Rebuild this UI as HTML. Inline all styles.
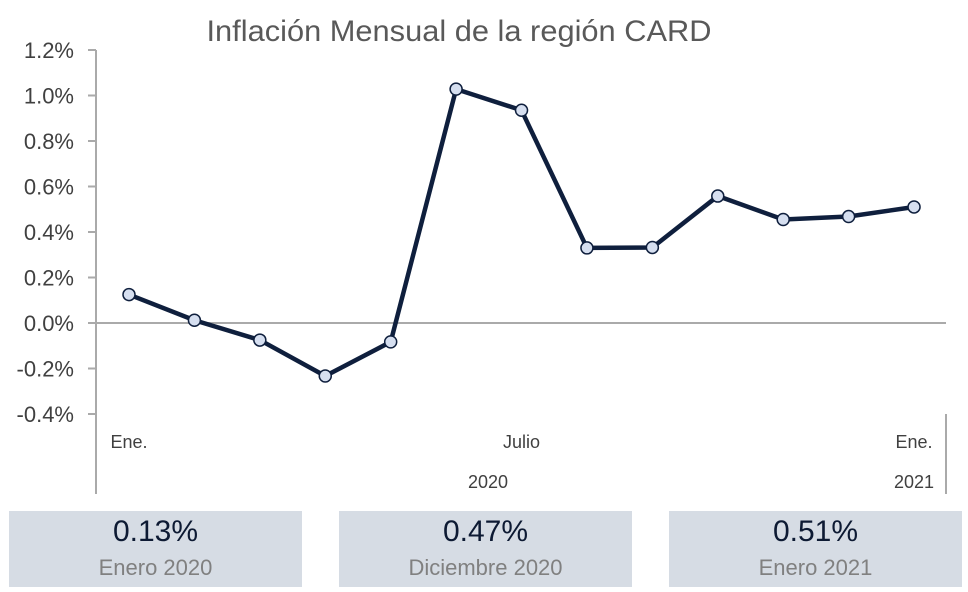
<!DOCTYPE html>
<html><head><meta charset="utf-8"><style>
body{margin:0;width:968px;height:592px;background:#fff;overflow:hidden;font-family:"Liberation Sans",sans-serif;}
.box{position:absolute;top:511px;height:76px;width:293px;background:#d6dce4;text-align:center;}
.v{position:absolute;top:4px;width:100%;font-size:30px;color:#0d1a33;}
.l{position:absolute;top:44px;width:100%;font-size:22px;color:#808080;}
</style></head><body>
<svg id="chart" width="968" height="510" style="position:absolute;left:0;top:0" font-family="Liberation Sans, sans-serif">
<text x="459" y="41" text-anchor="middle" font-size="30" textLength="505" lengthAdjust="spacingAndGlyphs" fill="#595959">Inflación Mensual de la región CARD</text>
<g id="yaxis"></g><g id="xaxis"></g><g id="series"></g>
</svg>
<div class="box" style="left:9px"><div class="v">0.13%</div><div class="l">Enero 2020</div></div>
<div class="box" style="left:339px"><div class="v">0.47%</div><div class="l">Diciembre 2020</div></div>
<div class="box" style="left:669px"><div class="v">0.51%</div><div class="l">Enero 2021</div></div>
<script>
const months=["Ene","Feb","Mar","Abr","May","Jun","Jul","Ago","Sep","Oct","Nov","Dic","Ene"];
const values=[0.125,0.012,-0.075,-0.233,-0.083,1.028,0.935,0.33,0.332,0.558,0.455,0.468,0.51];
const yTicks=[-0.4,-0.2,0,0.2,0.4,0.6,0.8,1.0,1.2];
const catLabels=[[0,"Ene."],[6,"Julio"],[12,"Ene."]];
const yearLabels=[[6,"2020"],[12,"2021"]];
const NS="http://www.w3.org/2000/svg";
const y=v=>323-v*227.5;
const x=i=>129+i*65.42;
function mk(tag,attrs,parent){const e=document.createElementNS(NS,tag);for(const k in attrs)e.setAttribute(k,attrs[k]);parent.appendChild(e);return e;}
const ya=document.getElementById('yaxis'),xa=document.getElementById('xaxis'),se=document.getElementById('series');
let ax=mk('line',{x1:96,y1:50,x2:96,y2:494,stroke:'#aaa','stroke-width':2},ya);


yTicks.forEach(t=>{
 const tk=mk('line',{x1:88,x2:96,y1:y(t),y2:y(t),stroke:'#aaa','stroke-width':2},ya);
 
 
 const tx=mk('text',{x:74,y:y(t)+8,'text-anchor':'end','font-size':22,fill:'#404040'},ya);
 tx.textContent=t.toFixed(1)+'%';
 
 
});
const zl=mk('line',{x1:96,x2:946,y1:y(0),y2:y(0),stroke:'#aaa','stroke-width':2},xa);


const rl=mk('line',{x1:946,x2:946,y1:414,y2:494,stroke:'#aaa','stroke-width':2},xa);


catLabels.forEach(([i,s])=>{
 const t=mk('text',{x:x(i),y:448,'text-anchor':'middle','font-size':18,fill:'#404040'},xa);
 t.textContent=s;
 
 
});
yearLabels.forEach(([i,s])=>{
 const t=mk('text',{x:i==6?488:x(i),y:488,'text-anchor':'middle','font-size':18,fill:'#404040'},xa);
 t.textContent=s;
 
 
});
const ln=mk('polyline',{points:values.map((v,i)=>x(i)+','+y(v)).join(' '),fill:'none',stroke:'#0f1f3d','stroke-width':4.5,'stroke-linejoin':'round'},se);


values.forEach((v,i)=>{
 const c=mk('circle',{cx:x(i),cy:y(v),r:6,fill:'#d6dff0',stroke:'#0f1f3d','stroke-width':1.5},se);
 
 
});
</script>
</body></html>
